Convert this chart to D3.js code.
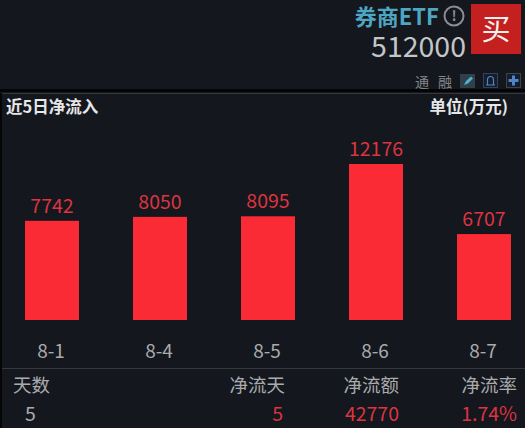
<!DOCTYPE html>
<html><head><meta charset="utf-8">
<script src="https://cdn.jsdelivr.net/npm/d3@7"></script>
<style>html,body{margin:0;padding:0;background:#14171d}svg{display:block}text{font-family:"Noto Sans CJK SC","Noto Sans",sans-serif}</style>
</head><body><div id="c"></div>
<script>
const dates = ["8-1","8-4","8-5","8-6","8-7"];
const inflows = [7742,8050,8095,12176,6707];
const tableHeaders = ["天数","净流天","净流额","净流率"];
const tableValues = ["5","5","42770","1.74%"];
const W=525,H=428;
const svg=d3.select("#c").append("svg").attr("width",W).attr("height",H);
svg.append("rect").attr("width",W).attr("height",H).attr("fill","#14171d");
const T=(x,y,s,size,fill,anchor="start",weight=400)=>svg.append("text").attr("x",x).attr("y",y).attr("font-size",size).attr("fill",fill).attr("text-anchor",anchor).attr("font-weight",weight).text(s);

// header
T(439,25,"券商ETF",22,"#4fa6c2","end",700);
svg.append("circle").attr("cx",454).attr("cy",16).attr("r",9.5).attr("fill","none").attr("stroke","#8b8d90").attr("stroke-width",2);
T(454,21,"!",14,"#8b8d90","middle",700);
T(466,56.5,"512000",28.5,"#c3c6c8","end");
svg.append("rect").attr("x",471).attr("y",4).attr("width",50).attr("height",50).attr("fill","#c4201f");
T(496,40,"买",29,"#f4f0ee","middle");
T(415,87,"通",14,"#84878a");
T(438,87,"融",14,"#84878a");
// icons
svg.append("rect").attr("x",460).attr("y",74).attr("width",15).attr("height",14).attr("fill","#30404a");
svg.append("path").attr("d","M464,85 L466,81 L471,76.5 L473,78.5 L468,83.5 Z").attr("fill","#4fb0d0");
svg.append("rect").attr("x",483.5).attr("y",73.5).attr("width",14).attr("height",14).attr("fill","#161d28").attr("stroke","#2f4460");
svg.append("path").attr("d","M486,85 L495,85 M487.5,85 V80 a3,3.5 0 0 1 6,0 V85").attr("fill","none").attr("stroke","#4d86c8").attr("stroke-width",1.2);
svg.append("rect").attr("x",506.5).attr("y",73.5).attr("width",14).attr("height",14).attr("fill","#161d28").attr("stroke","#3a4350");
svg.append("path").attr("d","M513.5,75.5 V85.5 M508.5,80.5 H518.5").attr("stroke","#4d86c8").attr("stroke-width",3);

// separators
svg.append("rect").attr("x",0).attr("y",89).attr("width",W).attr("height",3).attr("fill","#050506");
svg.append("line").attr("x1",0).attr("x2",W).attr("y1",93.5).attr("y2",93.5).attr("stroke","#34363b");
svg.append("rect").attr("x",0).attr("y",93).attr("width",2).attr("height",H-93).attr("fill","#050506");

T(6,113,"近5日净流入",16.5,"#e6e7e8","start",700);
T(508,113,"单位(万元)",16.5,"#e6e7e8","end",700);

// chart
const x=d3.scaleBand().domain(dates).range([-2,538]).paddingInner(0.5).paddingOuter(0.25);
const y=d3.scaleLinear().domain([0,d3.max(inflows)]).range([320,164]);
const data=dates.map((d,i)=>({d,v:inflows[i]}));
svg.selectAll("rect.bar").data(data).join("rect").attr("class","bar")
 .attr("x",d=>x(d.d)).attr("width",x.bandwidth()).attr("y",d=>y(d.v)).attr("height",d=>y(0)-y(d.v)).attr("fill","#fb2b35");
svg.selectAll("text.val").data(data).join("text").attr("class","val")
 .attr("x",d=>x(d.d)+x.bandwidth()/2).attr("y",d=>y(d.v)-8).attr("text-anchor","middle")
 .attr("font-size",19.5).attr("fill","#dc3440").text(d=>d.v);
const ax=svg.append("g").attr("transform","translate(-1,358)").call(d3.axisBottom(x).tickSize(0).tickPadding(0));
ax.select(".domain").remove();
ax.selectAll("text").attr("y",0).attr("dy",0).attr("font-size",19).attr("fill","#a9abad").attr("font-family",'"Noto Sans CJK SC"');

svg.append("line").attr("x1",2).attr("x2",W).attr("y1",368.5).attr("y2",368.5).attr("stroke","#36383c");
// table
const hx=[[13,"start"],[285,"end"],[399,"end"],[517,"end"]];
tableHeaders.forEach((s,i)=>T(hx[i][0],392,s,18.5,"#a9abad",hx[i][1]));
const vx=[[25,"start"],[283,"end"],[399,"end"],[517,"end"]];
tableValues.forEach((s,i)=>T(vx[i][0],420.5,s,19.5,i==0?"#a9abad":"#dc3440",vx[i][1]));
</script></body></html>
